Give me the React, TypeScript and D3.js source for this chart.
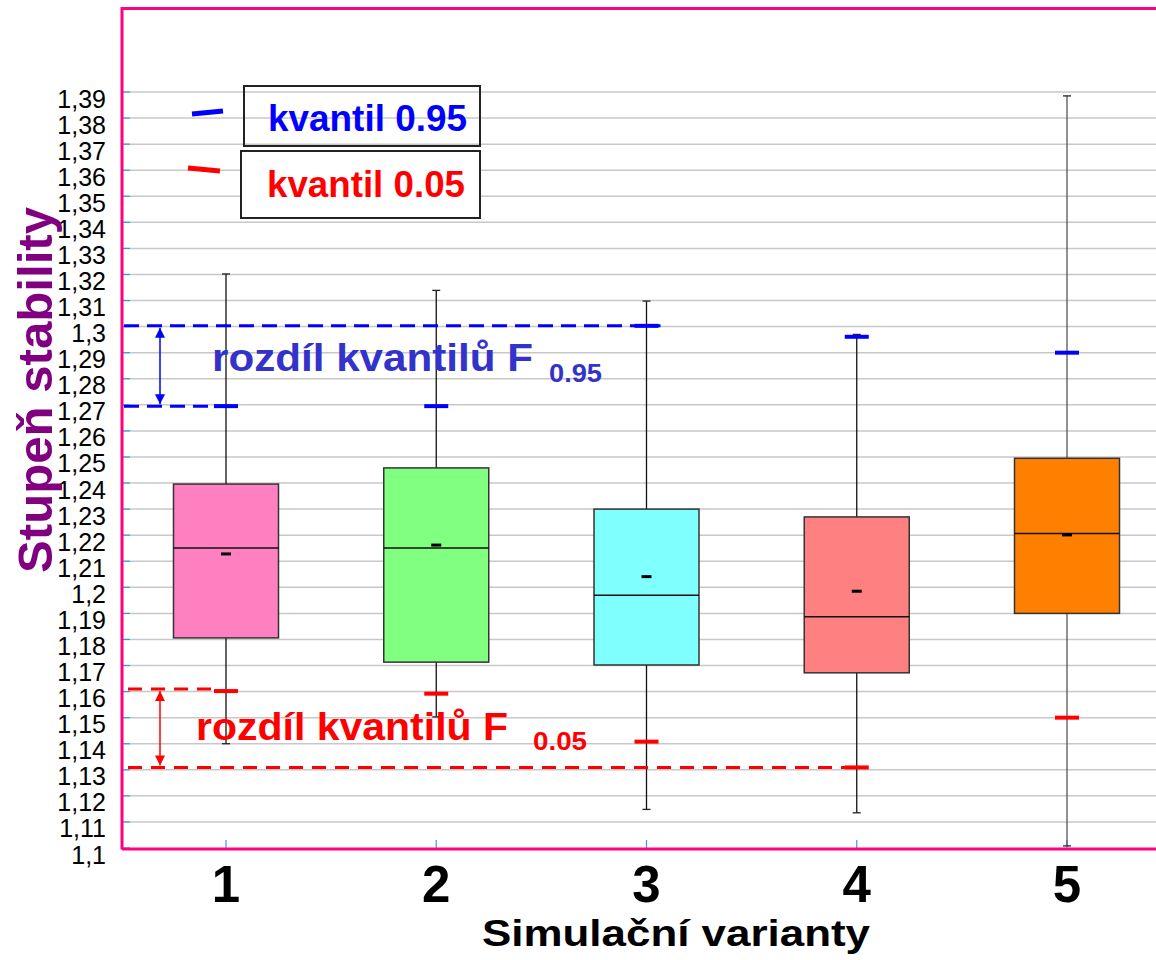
import React from "react";
import * as d3 from "d3";

const categories = ["1", "2", "3", "4", "5"];
const boxFill = ["#ff80c0", "#80ff80", "#80ffff", "#ff8080", "#ff8000"];
const q1 = [1.1806, 1.1713, 1.1702, 1.1672, 1.19];
const q3 = [1.2396, 1.2458, 1.23, 1.227, 1.2495];
const median = [1.2151, 1.2151, 1.197, 1.1887, 1.2206];
const mean = [1.2128, 1.2162, 1.2041, 1.1985, 1.2201];
const whiskerMin = [1.14, 1.1503, 1.1148, 1.1135, 1.1008];
const whiskerMax = [1.3202, 1.3139, 1.3098, 1.297, 1.3885];
const q95 = [1.2695, 1.2695, 1.3003, 1.2961, 1.29];
const q05 = [1.1602, 1.1592, 1.1408, 1.1309, 1.15];
const yTicks = [
  1.1, 1.11, 1.12, 1.13, 1.14, 1.15, 1.16, 1.17, 1.18, 1.19, 1.2, 1.21, 1.22, 1.23, 1.24,
  1.25, 1.26, 1.27, 1.28, 1.29, 1.3, 1.31, 1.32, 1.33, 1.34, 1.35, 1.36, 1.37, 1.38, 1.39,
];

const W = 1156;
const H = 960;
const FONT = "'Liberation Sans', Arial, sans-serif";
const PINK = "#ff0080";
const TICKBLUE = "#3399ff";

export default function App() {
  const x = d3.scalePoint<string>().domain(categories).range([226, 1067]);
  const y = d3.scaleLinear().domain([1.1, 1.39]).range([848, 92]);
  const left = 122;
  const boxW = 105;
  const fmt = (v: number) => String(+v.toFixed(2)).replace(".", ",");

  const f95TopY = y(q95[2]);
  const f95BotY = y(q95[0]);
  const f05TopY = y(q05[0]) - 2;
  const f05BotY = y(q05[3]);

  return (
    <svg
      width={W}
      height={H}
      style={{ position: "absolute", left: 0, top: 0, background: "#fff" }}
      fontFamily={FONT}
    >
      <defs>
        <marker id="abS" viewBox="0 0 10 10" refX="10" refY="5" markerWidth="10" markerHeight="10" orient="auto-start-reverse" markerUnits="userSpaceOnUse">
          <path d="M0,0 L10,5 L0,10 z" fill="#0000ff" />
        </marker>
        <marker id="arS" viewBox="0 0 10 10" refX="10" refY="5" markerWidth="10" markerHeight="10" orient="auto-start-reverse" markerUnits="userSpaceOnUse">
          <path d="M0,0 L10,5 L0,10 z" fill="#ff0000" />
        </marker>
      </defs>

      {/* gridlines */}
      {yTicks.slice(1).map((t) => (
        <line key={"g" + t} x1={left} x2={W} y1={y(t)} y2={y(t)} stroke="#c8c8c8" strokeWidth={1.5} />
      ))}
      {/* y ticks */}
      {yTicks.map((t) => (
        <line key={"yt" + t} x1={left} x2={left + 8} y1={y(t)} y2={y(t)} stroke={TICKBLUE} strokeWidth={1.2} />
      ))}
      {/* x ticks */}
      {categories.map((c) => (
        <line key={"xt" + c} x1={x(c)} x2={x(c)} y1={840} y2={848} stroke={TICKBLUE} strokeWidth={1.2} />
      ))}
      {/* y tick labels */}
      {yTicks.map((t) => (
        <text key={"yl" + t} x={106} y={y(t) + 15.5} textAnchor="end" fontSize={25} fill="#000">
          {fmt(t)}
        </text>
      ))}

      {/* whiskers and boxes */}
      {categories.map((c, i) => {
        const cx = x(c)!;
        return (
          <g key={"b" + c}>
            <line x1={cx} x2={cx} y1={y(whiskerMax[i])} y2={y(q3[i])} stroke={i === 4 ? "#555" : "#111"} strokeWidth={1.3} />
            <line x1={cx} x2={cx} y1={y(q1[i])} y2={y(whiskerMin[i])} stroke={i === 4 ? "#555" : "#111"} strokeWidth={1.3} />
            <line x1={cx - 4} x2={cx + 4} y1={y(whiskerMax[i])} y2={y(whiskerMax[i])} stroke="#222" strokeWidth={1.3} />
            <line x1={cx - 4} x2={cx + 4} y1={y(whiskerMin[i])} y2={y(whiskerMin[i])} stroke="#222" strokeWidth={1.3} />
            <rect
              x={cx - boxW / 2}
              y={y(q3[i])}
              width={boxW}
              height={y(q1[i]) - y(q3[i])}
              fill={boxFill[i]}
              stroke="#333"
              strokeWidth={1.5}
            />
            <line x1={cx - boxW / 2} x2={cx + boxW / 2} y1={y(median[i])} y2={y(median[i])} stroke="#111" strokeWidth={1.5} />
            <line x1={cx - 5} x2={cx + 5} y1={y(mean[i])} y2={y(mean[i])} stroke="#000" strokeWidth={3} />
            <line x1={cx - 12} x2={cx + 12} y1={y(q95[i])} y2={y(q95[i])} stroke="#0000ff" strokeWidth={4} />
            <line x1={cx - 12} x2={cx + 12} y1={y(q05[i])} y2={y(q05[i])} stroke="#ff0000" strokeWidth={4} />
          </g>
        );
      })}

      {/* blue annotation */}
      <line x1={124} x2={x("3")! + 14} y1={f95TopY} y2={f95TopY} stroke="#0000ff" strokeWidth={3} strokeDasharray="15 8" />
      <line x1={124} x2={x("1")! + 12} y1={f95BotY} y2={f95BotY} stroke="#0000ff" strokeWidth={3} strokeDasharray="15 8" />
      <line x1={160} x2={160} y1={f95TopY + 2} y2={f95BotY - 2} stroke="#0000ff" strokeWidth={1.5} markerStart="url(#abS)" markerEnd="url(#abS)" />
      <text x={212} y={371} fontSize={38} fontWeight="bold" fill="#3333cc" textLength={321} lengthAdjust="spacingAndGlyphs">
        rozdíl kvantilů F
      </text>
      <text x={549} y={382} fontSize={25} fontWeight="bold" fill="#3333cc" textLength={53} lengthAdjust="spacingAndGlyphs">
        0.95
      </text>

      {/* red annotation */}
      <line x1={128} x2={x("1")! - 8} y1={f05TopY} y2={f05TopY} stroke="#ff0000" strokeWidth={3} strokeDasharray="14 9" />
      <line x1={128} x2={x("4")! + 10} y1={f05BotY} y2={f05BotY} stroke="#ff0000" strokeWidth={3} strokeDasharray="14 9" />
      <line x1={160} x2={160} y1={f05TopY + 2} y2={f05BotY - 2} stroke="#ff0000" strokeWidth={1.5} markerStart="url(#arS)" markerEnd="url(#arS)" />
      <text x={196} y={740} fontSize={38} fontWeight="bold" fill="#ff0000" textLength={312} lengthAdjust="spacingAndGlyphs">
        rozdíl kvantilů F
      </text>
      <text x={533} y={750} fontSize={25} fontWeight="bold" fill="#ff0000" textLength={54} lengthAdjust="spacingAndGlyphs">
        0.05
      </text>

      {/* legend */}
      <rect x={244} y={86} width={236} height={60} fill="none" stroke="#222" strokeWidth={2} />
      <text x={268} y={131} fontSize={37} fontWeight="bold" fill="#0000ff" textLength={199} lengthAdjust="spacingAndGlyphs">
        kvantil 0.95
      </text>
      <line x1={192} x2={223} y1={114} y2={111} stroke="#0000ff" strokeWidth={5} />
      <rect x={241} y={151} width={239} height={67} fill="#fff" stroke="#222" strokeWidth={2} />
      <text x={267} y={197} fontSize={37} fontWeight="bold" fill="#ff0000" textLength={198} lengthAdjust="spacingAndGlyphs">
        kvantil 0.05
      </text>
      <line x1={188} x2={220} y1={168} y2={171} stroke="#ff0000" strokeWidth={5} />

      {/* axes frame */}
      <line x1={left} x2={left} y1={7} y2={849.5} stroke={PINK} strokeWidth={3} />
      <line x1={left} x2={W} y1={849} y2={849} stroke={PINK} strokeWidth={3} />
      <line x1={left} x2={W} y1={8.5} y2={8.5} stroke={PINK} strokeWidth={3} />

      {/* x labels */}
      {categories.map((c) => (
        <text key={"xl" + c} x={x(c)} y={902} textAnchor="middle" fontSize={51} fontWeight="bold" fill="#000">
          {c}
        </text>
      ))}
      <text x={482} y={946} fontSize={37} fontWeight="bold" fill="#000" textLength={388} lengthAdjust="spacingAndGlyphs">
        Simulační varianty
      </text>
      <text
        transform="translate(52,390) rotate(-90)"
        textAnchor="middle"
        fontSize={49}
        fontWeight="bold"
        fill="#800080"
        textLength={366}
        lengthAdjust="spacingAndGlyphs"
      >
        Stupeň stability
      </text>
    </svg>
  );
}
